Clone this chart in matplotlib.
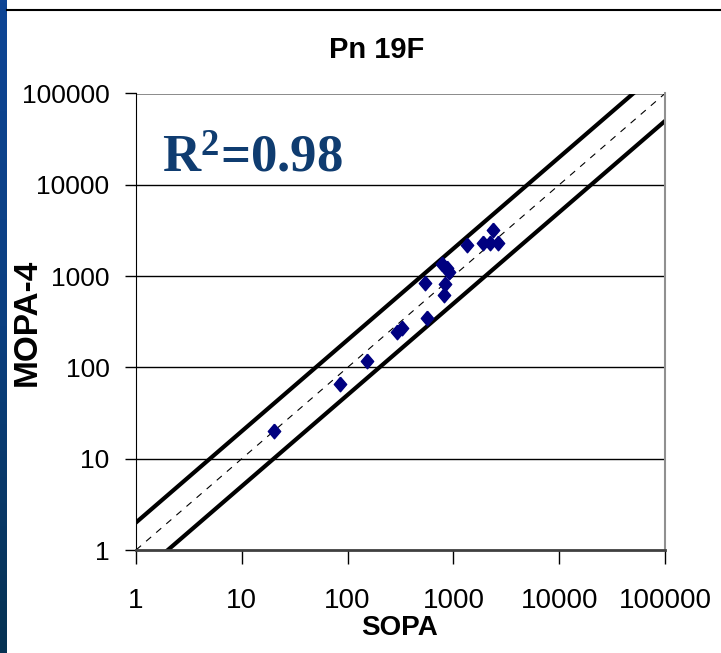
import numpy as np
import matplotlib
matplotlib.use('Agg')
from matplotlib import pyplot as plt, ticker
from matplotlib.colors import LinearSegmentedColormap
from matplotlib.lines import Line2D

# serotype 19F: SOPA vs MOPA-4 titres
sopa = [20.2, 84.8, 153.5, 293, 327, 563, 539, 780, 870, 908, 833, 815,
        1336, 1905, 2218, 2642, 2367]
mopa = [20.3, 66.1, 119, 246, 272, 350, 847, 1368, 1236, 1117, 826, 625,
        2208, 2323, 2323, 2323, 3228]
decades = [1, 10, 100, 1000, 10000, 100000]
tick_labels = ['1', '10', '100', '1000', '10000', '100000']
r2 = 0.98

plt.rcParams['mathtext.fontset'] = 'custom'
plt.rcParams['mathtext.rm'] = 'Liberation Serif:bold'
plt.rcParams['mathtext.bf'] = 'Liberation Serif:bold'
plt.rcParams['mathtext.default'] = 'rm'

sans = ['Liberation Sans', 'DejaVu Sans']

W, H = 721, 653
fig = plt.figure(figsize=(W / 100, H / 100), dpi=100)
fig.patch.set_facecolor('white')

# blue strip down the left edge
strip = fig.add_axes([0, 0, 7 / W, 1])
cmap = LinearSegmentedColormap.from_list('strip', ['#0e4595', '#0b3f80', '#063252'])
strip.imshow(np.linspace(0, 1, 200).reshape(-1, 1), aspect='auto', cmap=cmap,
             extent=[0, 1, 0, 1])
strip.axis('off')

# rule across the top
fig.add_artist(Line2D([7 / W, 1], [1 - 10 / H] * 2, color='black', lw=1.5))

ax = fig.add_axes([136 / W, 1 - 550 / H, 529 / W, 456.5 / H])
ax.set_xscale('log')
ax.set_yscale('log')
ax.set_xlim(1, 100000)
ax.set_ylim(1, 100000)

ref = np.array([1.0, 100000.0])
ax.plot(ref, ref, color='black', lw=0.8, ls=(0, (6, 6)))
ax.plot(ref, ref * 2, color='black', lw=3)
ax.plot(ref, ref / 2, color='black', lw=3)

diamond = [(0, 1), (0.85, 0), (0, -1), (-0.85, 0), (0, 1)]
ax.plot(sopa, mopa, ls='none', marker=diamond, ms=10.5, color='#000080',
        mec='#000080', zorder=5)

ax.set_xticks(decades)
ax.set_xticklabels(tick_labels, family=sans, fontsize=20)
ax.set_yticks(decades)
ax.set_yticklabels(tick_labels, family=sans, fontsize=19)
ax.xaxis.set_minor_locator(ticker.NullLocator())
ax.yaxis.set_minor_locator(ticker.NullLocator())
ax.tick_params(axis='x', direction='out', length=10, width=1, pad=17, colors='black')
ax.tick_params(axis='y', direction='out', length=8, width=1, pad=11, colors='black')

for yv in decades[1:-1]:
    ax.axhline(yv, color='black', lw=1, zorder=1)
ax.axhline(100000, color='#808080', lw=2, zorder=1)

ax.spines['left'].set_color('black')
ax.spines['bottom'].set_color('#404040')
ax.spines['bottom'].set_linewidth(2)
ax.spines['right'].set_color('#909090')
ax.spines['right'].set_linewidth(1.5)
ax.spines['top'].set_visible(False)
ax.patch.set_facecolor('white')

ax.text((162 - 136) / 529, (550 - 172) / 456.5, 'R$^{2}$=%.2f' % r2,
        transform=ax.transAxes, family=['Liberation Serif', 'DejaVu Serif'],
        fontweight='bold', fontsize=38, color='#0f3c70', ha='left', va='baseline')

fig.text(377 / W, 1 - 50 / H, 'Pn 19F', family=sans, fontweight='bold',
         fontsize=21, ha='center', va='center')
fig.text(400 / W, 1 - 628 / H, 'SOPA', family=sans, fontweight='bold',
         fontsize=20, ha='center', va='center')
fig.text(27 / W, 1 - 322 / H, 'MOPA-4', family=sans, fontweight='bold',
         fontsize=24, ha='center', va='center', rotation=90)

fig.savefig('out.png', dpi=100, facecolor='white')
